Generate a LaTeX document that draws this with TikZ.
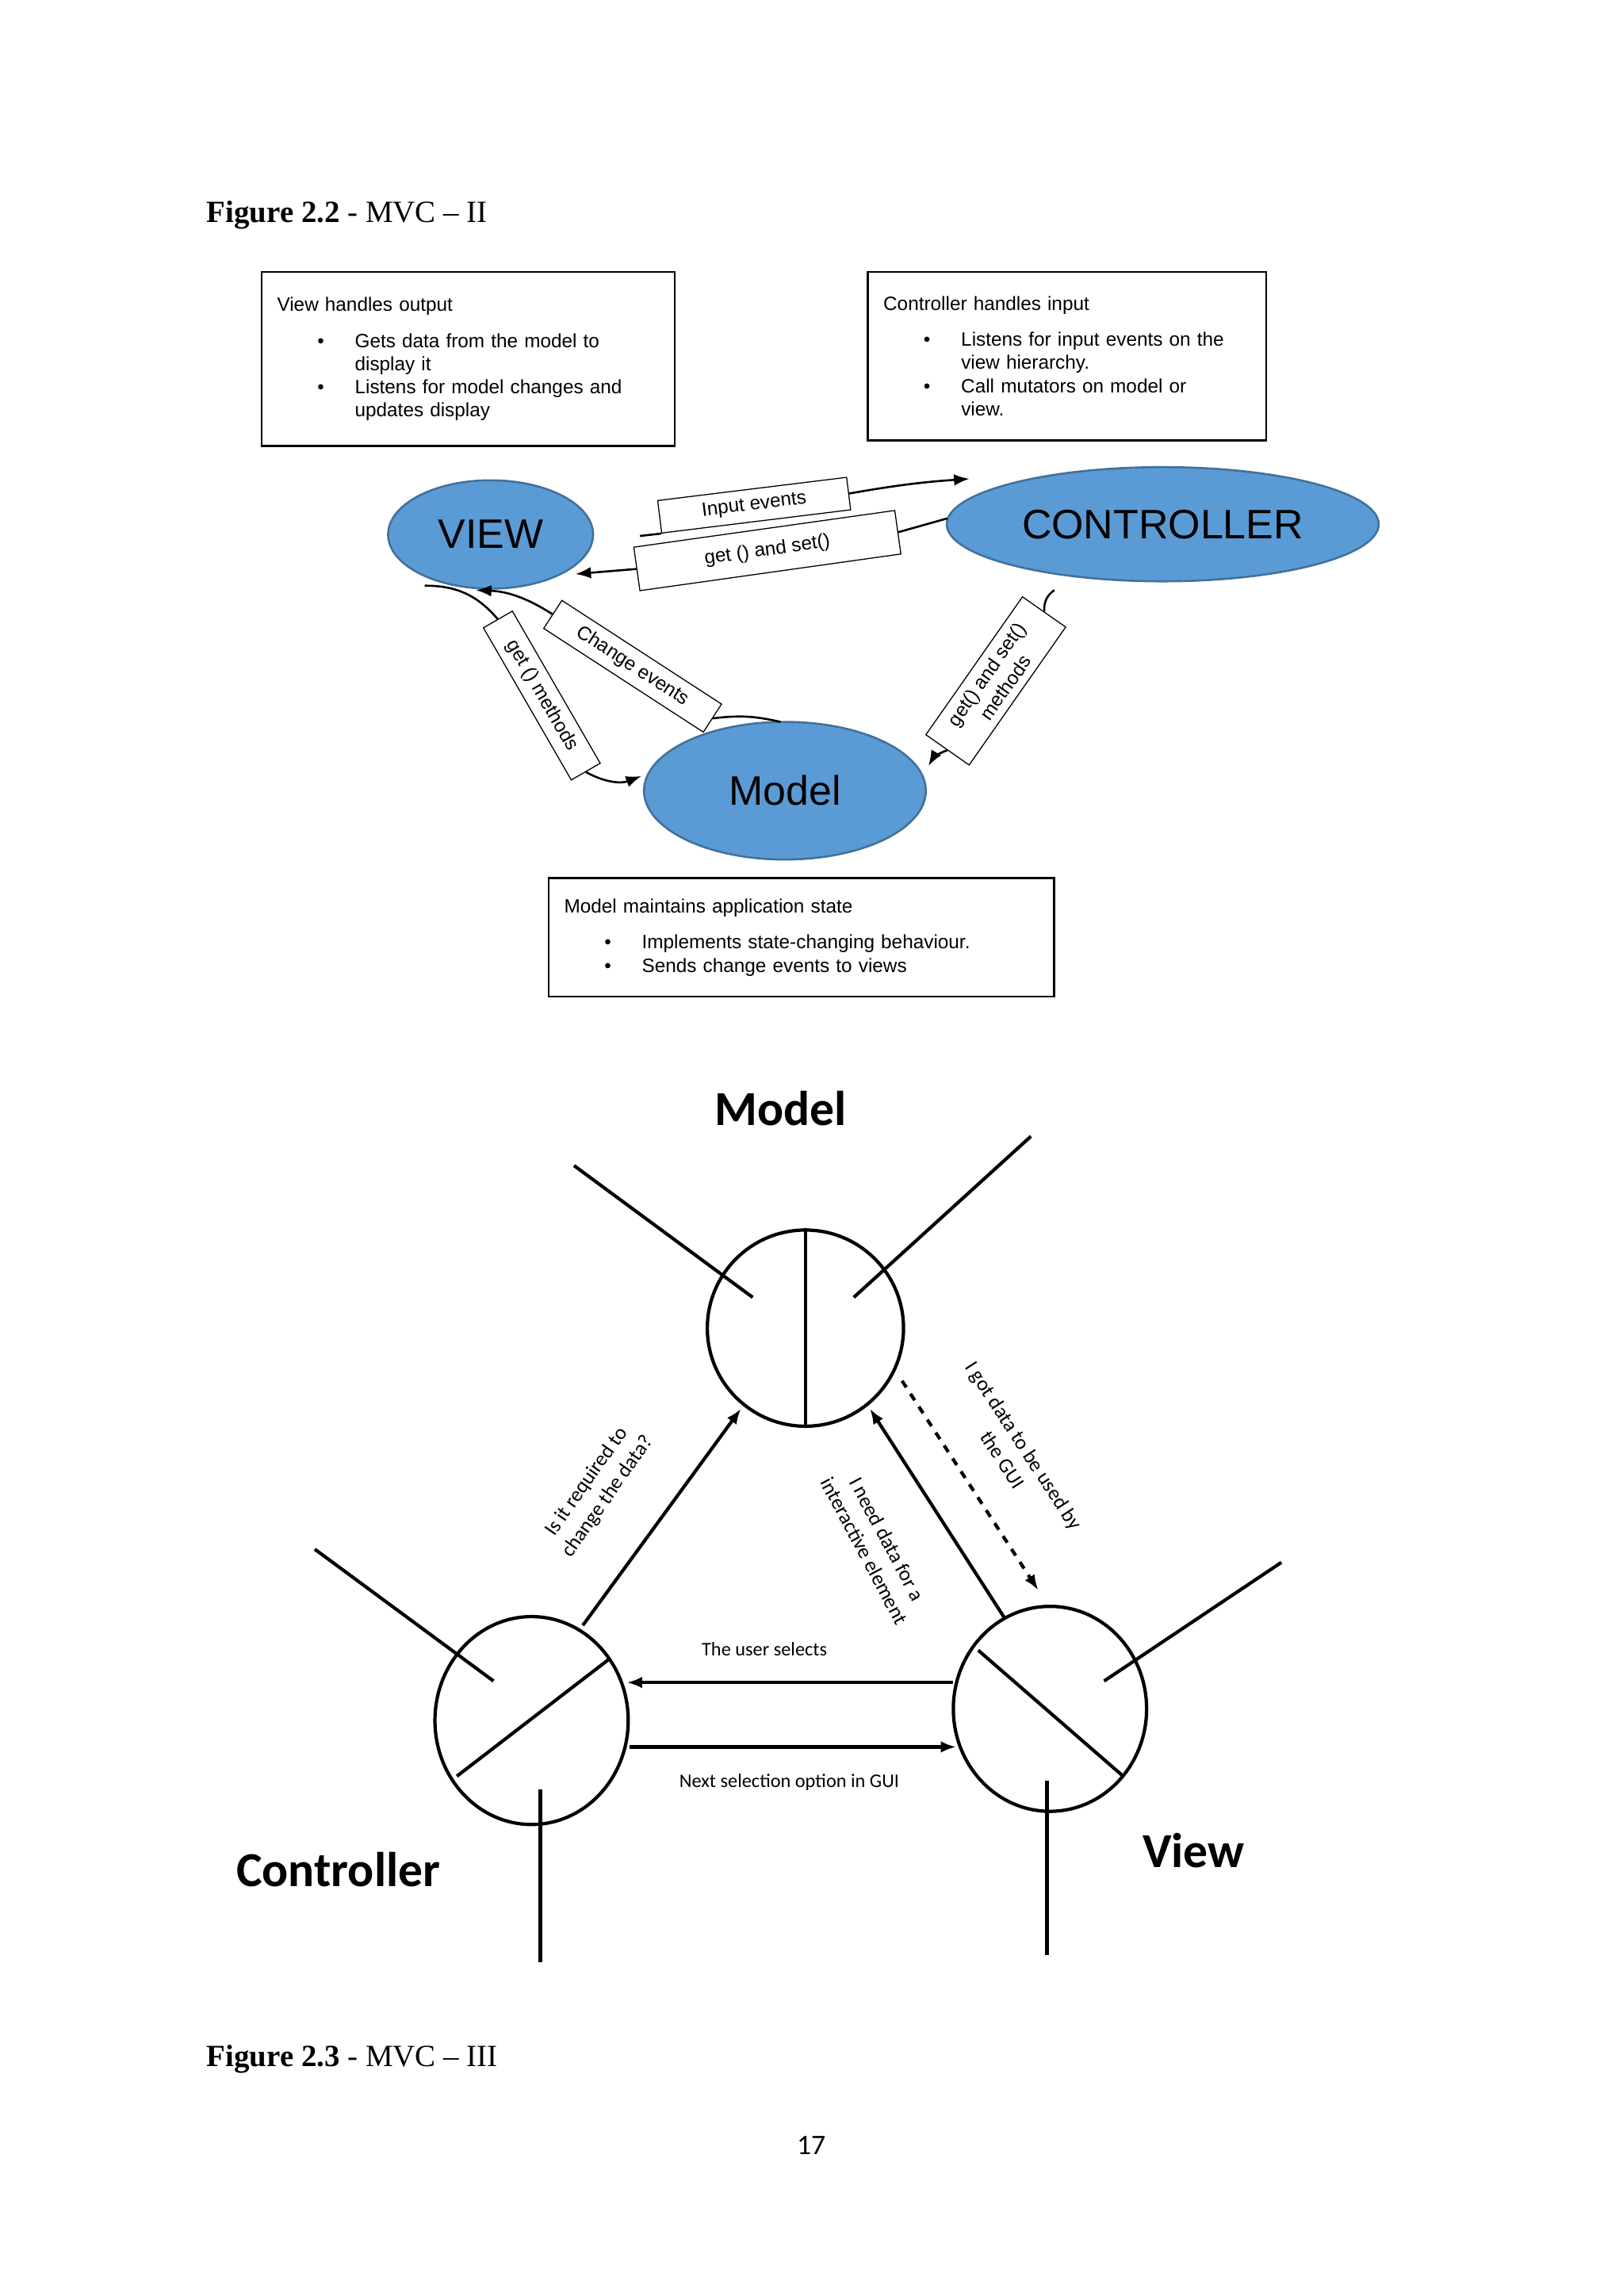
\documentclass[tikz,border=0pt]{standalone}
\usepackage{fontspec}
\setmainfont{Liberation Sans}
\newfontfamily\capfont{Liberation Serif}
\newfontfamily\calfont{Carlito}
\usetikzlibrary{arrows.meta, positioning, shapes.geometric}
\definecolor{mvcblue}{HTML}{5B9BD5}
\definecolor{mvcedge}{HTML}{41719C}
\newcommand{\bul}[2]{\hspace*{0.55cm}\textbullet\hspace{0.42cm}\parbox[t]{#1}{#2}}
\tikzset{
    infobox/.style={draw, thick, anchor=north west, align=left, inner xsep=6pt, inner ysep=2pt, font=\fontsize{7.5}{9}\selectfont},
    blob/.style={ellipse, draw=mvcedge, fill=mvcblue, thick},
    tag/.style={draw, fill=white, inner sep=3pt, font=\fontsize{7.5}{9}\selectfont, align=center},
    flow/.style={-{Latex[length=6pt]}, thick},
    wheel/.style={circle, draw, line width=1.3pt, minimum size=3.8cm, inner sep=0pt},
    spoke/.style={line width=1.3pt},
    say/.style={font=\calfont\fontsize{7.5}{9}\selectfont, align=center},
    big/.style={font=\calfont\bfseries\fontsize{19}{22}\selectfont}
}
\begin{document}
\begin{tikzpicture}[x=0.02cm, y=-0.02cm]
    \useasboundingbox (0,0) rectangle (1108,1568);
    % captions
    \node[anchor=west, font=\capfont\fontsize{12}{14}\selectfont] (cap1) at (135,147) {\textbf{Figure 2.2} - MVC \textendash{} II};
    \node[anchor=west, font=\capfont\fontsize{12}{14}\selectfont] (cap2) at (135,1406) {\textbf{Figure 2.3} - MVC \textendash{} III};
    \node[font=\calfont\fontsize{11}{13}\selectfont] (pagenum) at (554,1465) {17};

    % text boxes
    \node[infobox, text width=5.22cm, minimum height=2.38cm] (viewbox) at (178,185)
        {View handles output\\[5pt]
         \bul{3.9cm}{Gets data from the model to display it}\\[1pt]
         \bul{3.9cm}{Listens for model changes and updates display}\\[6pt]};
    \node[infobox, text width=5.02cm, minimum height=2.3cm] (ctrlbox) at (592,185)
        {Controller handles input\\[5pt]
         \bul{3.7cm}{Listens for input events on the view hierarchy.}\\[1pt]
         \bul{3.7cm}{Call mutators on model or view.}\\[4pt]};
    \node[infobox, text width=6.48cm, minimum height=1.62cm] (modelbox) at (374,599)
        {Model maintains application state\\[5pt]
         \bul{5cm}{Implements state-changing behaviour.}\\
         \bul{5cm}{Sends change events to views}\\[4pt]};

    % ellipses
    \node[blob, minimum width=2.8cm, minimum height=1.48cm, font=\fontsize{16}{18}\selectfont] (view) at (335,365) {VIEW};
    \node[blob, minimum width=5.9cm, minimum height=1.56cm, font=\fontsize{16}{18}\selectfont] (ctrl) at (794,358) {CONTROLLER};
    \node[blob, minimum width=3.85cm, minimum height=1.88cm, font=\fontsize{16}{18}\selectfont] (model) at (536,540) {Model};

    % tags on the arrows
    \node[tag, rotate=7, minimum width=2.6cm] (input) at (515,345) {Input events};
    \node[tag, rotate=8, minimum width=3.6cm, minimum height=0.6cm] (getset) at (524,376) {get () and set()};
    \node[tag, rotate=-33, minimum width=2.6cm] (change) at (432,455) {Change events};
    \node[tag, rotate=-60, minimum width=2.4cm] (getm) at (370,475) {get () methods};
    \node[tag, rotate=55, minimum width=2.3cm] (gsm) at (680,465) {get() and set()\\methods};

    \coordinate (v1) at (437,366);
    \coordinate (c1) at (662,327);
    \coordinate (c2) at (647,354);
    \coordinate (v2) at (393,392);
    \coordinate (m1) at (533,493);
    \coordinate (v3) at (325,403);
    \coordinate (v4) at (290,400);
    \coordinate (m2) at (438,530);
    \coordinate (c3) at (720,403);
    \coordinate (m3) at (634,523);

    \draw[thick] (v1) -- (input.south west);
    \draw[flow] (input.east) to[bend left=3] (c1);
    \draw[thick] (c2) -- (getset.east);
    \draw[flow] (getset.west) -- (v2);
    \draw[thick] (m1) to[bend right=10] (change.east);
    \draw[flow] (change.west) to[bend right=15] (v3);
    \draw[thick] (v4) to[bend left=25] (getm.west);
    \draw[flow] (getm.east) to[bend right=25] (m2);
    \draw[thick] (c3) to[bend right=30] (gsm.east);
    \draw[flow] (gsm.west) to[bend right=20] (m3);

    % second figure
    \node[big] (mtitle) at (533,757) {Model};
    \node[big] (ctitle) at (231,1277) {Controller};
    \node[big] (vtitle) at (815,1264) {View};

    \node[wheel, minimum size=2.68cm] (mw) at (550,907) {};
    \node[wheel, ellipse, minimum width=2.64cm, minimum height=2.84cm] (cw) at (363,1175) {};
    \node[wheel, ellipse, minimum width=2.64cm, minimum height=2.8cm] (vw) at (717,1167) {};

    \draw[spoke] (mw.north) -- (mw.south);
    \draw[spoke] (312,1213) -- (416,1133);
    \draw[spoke] (668,1127) -- (767,1213);
    \draw[spoke] (392,796) -- (514,886);
    \draw[spoke] (704,776) -- (583,886);
    \draw[spoke] (215,1058) -- (337,1148);
    \draw[spoke] (369,1222) -- (369,1340);
    \draw[spoke] (875,1067) -- (754,1148);
    \draw[spoke] (715,1216) -- (715,1335);

    \coordinate (cm) at (398,1110);
    \coordinate (mc) at (506,962);
    \coordinate (vm) at (686,1105);
    \coordinate (mv) at (594,962);
    \coordinate (md) at (616,943);
    \coordinate (vd) at (709,1086);
    \coordinate (vl) at (651,1149);
    \coordinate (cl) at (428,1149);
    \coordinate (cr) at (430,1193);
    \coordinate (vr) at (653,1193);

    \draw[flow, line width=1.3pt] (cm) -- (mc);
    \draw[flow, line width=1.3pt] (vm) -- (mv);
    \draw[flow, line width=1.3pt, dashed] (md) -- (vd);
    \draw[flow, line width=1.3pt] (vl) -- (cl);
    \draw[flow, line width=1.3pt] (cr) -- (vr);

    \node[say, rotate=55, font=\calfont\fontsize{8}{10}\selectfont] (ask) at (408,1017) {Is it required to\\change the data?};
    \node[say, rotate=-57, font=\calfont\fontsize{8}{10}\selectfont] (got) at (692,992) {I got data to be used by\\the GUI};
    \node[say, rotate=-62, font=\calfont\fontsize{8}{10}\selectfont] (need) at (598,1055) {I need data for a\\interactive element};
    \node[say] (selects) at (522,1126) {The user selects};
    \node[say] (next) at (539,1217) {Next selection option in GUI};
\end{tikzpicture}
\end{document}
